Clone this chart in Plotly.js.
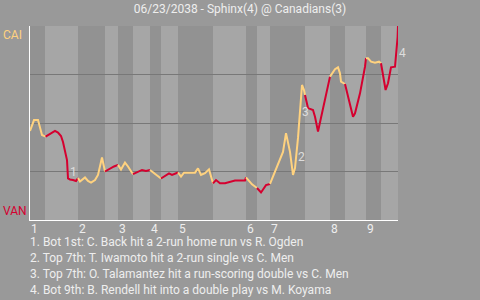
<!DOCTYPE html>
<html>
<head>
<meta charset="utf-8">
<script src="https://cdn.plot.ly/plotly-3.0.1.min.js"></script>
<style>html,body{margin:0;padding:0;background:#999999;}#chart{width:480px;height:300px;}</style>
</head>
<body>
<div id="chart"></div>
<script>
// Event position (x) and CAI win probability in % (y)
const eventX = [0,1,2,3,3.9,5,6.25,7,7.75,8.25,8.75,9.25,9.5,10,10.75,11.5,
  12,12.5,13.75,14.5,15.25,16.25,17,18,18.75,
  20,21,22,
  22.75,23.75,24.5,25.75,
  27,28,29,30,
  31.5,32.75,
  34,34.75,35.5,36.25,37,
  37.75,38.5,40,41.25,42,42.75,43.75,44.75,45.75,
  46.5,47.5,48.75,51.25,53.75,54,
  55.5,56.75,
  57.75,59,60,
  61,62,63.25,64,65,65.75,66.25,67,67.5,68,68.5,68.75,
  69.5,70.75,71.25,72,72.75,74,75,
  76.25,77,77.5,77.75,78.75,
  79.75,80.75,81.25,82.5,83.75,84,
  84.5,85.25,86.25,87.25,87.75,
  88.5,88.9,89.5,90.25,91.25,91.6,91.9,92];
const winProb = [45.9,51.5,51.5,43.8,43.0,44.3,45.9,45.1,43.3,40.2,36.1,30.9,21.4,20.9,20.6,20.1,
  21.6,19.8,21.9,20.1,19.3,20.6,23.2,32.2,25.0,
  26.5,27.6,28.4,
  26.0,29.6,27.6,23.6,
  25.0,25.8,25.3,25.8,
  23.2,21.4,
  23.2,24.0,23.2,24.0,24.5,
  22.4,24.4,24.4,24.4,26.6,23.2,24.1,26.1,18.9,
  20.6,18.9,18.9,20.3,20.3,22.0,
  18.4,16.5,
  14.2,18.0,18.6,
  23.7,27.8,35.1,44.8,35.1,23.2,26.8,42.3,55.7,69.6,67.0,64.4,
  57.7,56.7,53.2,45.6,52.6,66.0,73.9,
  77.7,78.7,75.6,71.3,70.1,
  61.9,53.2,55.0,65.3,79.0,83.4,
  83.4,81.6,81.1,81.6,80.8,
  73.0,67.0,70.5,78.7,79.0,86.6,94.3,100];

const halfInningBounds = [0,3.75,12,18.75,22,25.75,30,32.75,37,45.75,54,56.75,60,68.75,75,78.75,84,87.75,92];
const inningStarts = [0,12,22,30,37,54,60,75,84];
const inningLabels = ['1','2','3','4','5','6','7','8','9'];

const teamTop = 'CAI';
const teamBottom = 'VAN';
const titleText = '06/23/2038 - Sphinx(4) @ Canadians(3)';

const keyPlayX = [10.75, 67.9, 68.75, 92];
const keyPlayY = [24.7, 32.6, 55.8, 85.9];
const keyPlayLabels = ['1','2','3','4'];
const keyPlayTexts = [
  '1. Bot 1st: C. Back hit a 2-run home run vs R. Ogden',
  '2. Top 7th: T. Iwamoto hit a 2-run single vs C. Men',
  '3. Top 7th: O. Talamantez hit a run-scoring double vs C. Men',
  '4. Bot 9th: B. Rendell hit into a double play vs M. Koyama'
];

const YELLOW = '#ffd27f';
const RED = '#d5002f';
const DARK_BAND = '#929292';
const LIGHT_BAND = '#a6a6a6';
const TEXT = '#eeeeee';
const FONT = 'Roboto, "Open Sans", sans-serif';

function halfIndex(x){
  let h = 0;
  for (let i = 0; i < halfInningBounds.length - 1; i++) if (halfInningBounds[i] <= x) h = i;
  return h;
}

const traces = [];
let cur = null;
for (let i = 0; i < eventX.length - 1; i++) {
  const mid = (eventX[i] + eventX[i+1]) / 2;
  const color = halfIndex(mid) % 2 === 0 ? YELLOW : RED;
  if (!cur || cur.line.color !== color) {
    cur = {x:[eventX[i]], y:[winProb[i]], mode:'lines', type:'scatter',
      line:{color:color, width:2}, hoverinfo:'skip', showlegend:false, cliponaxis:true};
    traces.push(cur);
  }
  cur.x.push(eventX[i+1]); cur.y.push(winProb[i+1]);
}

const shapes = [];
for (let h = 0; h < halfInningBounds.length - 1; h++) {
  shapes.push({type:'rect', xref:'x', yref:'paper', x0:halfInningBounds[h], x1:halfInningBounds[h+1],
    y0:0, y1:1, fillcolor: h % 2 === 0 ? DARK_BAND : LIGHT_BAND, line:{width:0}, layer:'below'});
}

const annotations = [];
annotations.push({xref:'paper', yref:'paper', x:0, y:1, xanchor:'left', yanchor:'top', xshift:-29,
  text:teamTop, showarrow:false, font:{family:FONT, size:12, color:YELLOW}});
annotations.push({xref:'paper', yref:'paper', x:0, y:0, xanchor:'left', yanchor:'bottom', xshift:-29,
  text:teamBottom, showarrow:false, font:{family:FONT, size:12, color:RED}});
inningStarts.forEach((s, i) => {
  annotations.push({xref:'x', yref:'paper', x:s, y:0, xanchor:'left', yanchor:'top', xshift:-1,
    text:inningLabels[i], showarrow:false, font:{family:FONT, size:12, color:TEXT}});
});
keyPlayX.forEach((x, i) => {
  const last = i === keyPlayX.length - 1;
  annotations.push({xref:'x', yref:'y', x:x, y:keyPlayY[i], xanchor: last ? 'left' : 'center', yanchor:'middle',
    xshift: last ? -1 : 0,
    text:keyPlayLabels[i], showarrow:false, font:{family:FONT, size:12, color:'#dddddd'}});
});
keyPlayTexts.forEach((t, i) => {
  annotations.push({xref:'paper', yref:'paper', x:0, y:(220 - (241.7 + 16*i)) / 194 , xanchor:'left', yanchor:'middle', xshift:-2,
    text:t, showarrow:false, font:{family:FONT, size:12, color:TEXT}});
});

const layout = {
  width:480, height:300,
  margin:{l:30, r:82, t:26, b:80, pad:0},
  paper_bgcolor:'#999999',
  plot_bgcolor:DARK_BAND,
  title:{text:titleText, font:{family:FONT, size:12, color:TEXT}, x:0.5, xanchor:'center', y:0.971, yanchor:'middle', yref:'container'},
  xaxis:{range:[0,92], showgrid:false, zeroline:false, showticklabels:false, ticks:'',
    showline:true, linecolor:'#ffffff', linewidth:1, fixedrange:true},
  yaxis:{range:[0,100], tickvals:[25,50,75,100], showticklabels:false, ticks:'', gridcolor:'#787878', gridwidth:1,
    zeroline:false, showline:true, linecolor:'#ffffff', linewidth:1, fixedrange:true},
  shapes:shapes,
  annotations:annotations,
  showlegend:false,
  font:{family:FONT}
};

Plotly.newPlot('chart', traces, layout, {staticPlot:true, displayModeBar:false});
</script>
</body>
</html>
